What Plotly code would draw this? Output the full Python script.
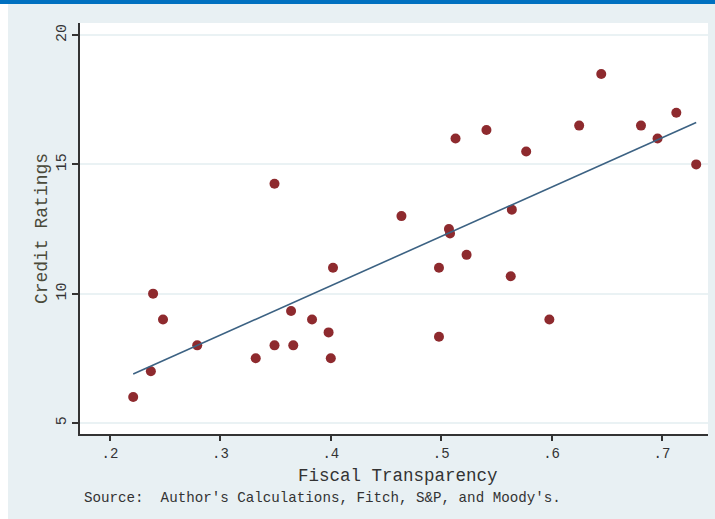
import plotly.graph_objects as go

# Data
fiscal_transparency = [0.221, 0.237, 0.239, 0.248, 0.279, 0.332, 0.349, 0.364, 0.366,
                       0.383, 0.398, 0.400, 0.402, 0.349, 0.464, 0.498, 0.498, 0.507,
                       0.508, 0.523, 0.513, 0.541, 0.564, 0.563, 0.577, 0.598, 0.625,
                       0.645, 0.681, 0.696, 0.713, 0.731]
credit_ratings = [6.0, 7.0, 10.0, 9.0, 8.0, 7.5, 8.0, 9.33, 8.0,
                  9.0, 8.5, 7.5, 11.0, 14.25, 13.0, 8.33, 11.0, 12.5,
                  12.33, 11.5, 16.0, 16.33, 13.25, 10.67, 15.5, 9.0, 16.5,
                  18.5, 16.5, 16.0, 17.0, 15.0]
fit_x = [0.221, 0.731]
fit_y = [6.89, 16.62]

x_tick_vals = [0.2, 0.3, 0.4, 0.5, 0.6, 0.7]
x_tick_text = [".2", ".3", ".4", ".5", ".6", ".7"]
y_tick_vals = [5, 10, 15, 20]
y_tick_text = ["5", "10", "15", "20"]

FONT = "Liberation Mono, DejaVu Sans Mono, monospace"
BG = "#e8f0f3"

fig = go.Figure()
fig.add_trace(go.Scatter(
    x=fiscal_transparency, y=credit_ratings, mode="markers",
    marker=dict(color="#8e2a2e", size=10, line=dict(width=0)),
    showlegend=False, hoverinfo="x+y"))
fig.add_trace(go.Scatter(
    x=fit_x, y=fit_y, mode="lines",
    line=dict(color="#3c6283", width=1.6),
    showlegend=False, hoverinfo="skip"))

W, H = 715, 519
L, R, T, B = 80, 7, 23, 85
pw, ph = W - L - R, H - T - B

def px_x(p):
    return (p - L) / pw

def px_y(p):
    return (H - B - p) / ph

fig.update_layout(
    width=W, height=H,
    margin=dict(l=L, r=R, t=T, b=B, pad=0),
    paper_bgcolor=BG, plot_bgcolor="white",
    font=dict(family=FONT, color="#333333"),
    xaxis=dict(
        range=[0.1728, 0.7417], tickvals=x_tick_vals, ticktext=x_tick_text,
        showgrid=False, zeroline=False,
        showline=True, linecolor="#333333", linewidth=1.5,
        ticks="outside", ticklen=5, tickwidth=1.5, tickcolor="#333333",
        tickfont=dict(family=FONT, size=14, color="#333333"),
    ),
    yaxis=dict(
        range=[4.57, 20.47], tickvals=y_tick_vals, ticktext=y_tick_text,
        tickangle=-90,
        showgrid=True, gridcolor="#eaf2f4", gridwidth=1.5, zeroline=False,
        showline=True, linecolor="#333333", linewidth=1.5,
        ticks="outside", ticklen=6, tickwidth=1.5, tickcolor="#333333",
        tickfont=dict(family=FONT, size=15, color="#333333"),
        title=dict(text="Credit Ratings", standoff=2,
                   font=dict(family=FONT, size=18, color="#4a4a3a")),
    ),
    shapes=[
        dict(type="rect", xref="paper", yref="paper",
             x0=px_x(0), x1=px_x(8), y0=px_y(H), y1=px_y(0),
             fillcolor="white", line=dict(width=0), layer="below"),
        dict(type="rect", xref="paper", yref="paper",
             x0=px_x(0), x1=px_x(W), y0=px_y(4), y1=px_y(0),
             fillcolor="#0070c0", line=dict(width=0), layer="above"),
    ],
    annotations=[
        dict(text="Fiscal Transparency",
             xref="paper", yref="paper", x=px_x(398), y=px_y(476),
             xanchor="center", yanchor="middle", showarrow=False,
             font=dict(family=FONT, size=17.5, color="#333333")),
        dict(text="Source:  Author's Calculations, Fitch, S&P, and Moody's.",
             xref="paper", yref="paper", x=px_x(82), y=px_y(498),
             xanchor="left", yanchor="middle", showarrow=False,
             font=dict(family=FONT, size=14.2, color="#333333")),
    ],
)

fig.write_html("out.html",
               config={"displayModeBar": False},
               post_script="document.body.style.margin='0';document.body.style.overflow='hidden';")
